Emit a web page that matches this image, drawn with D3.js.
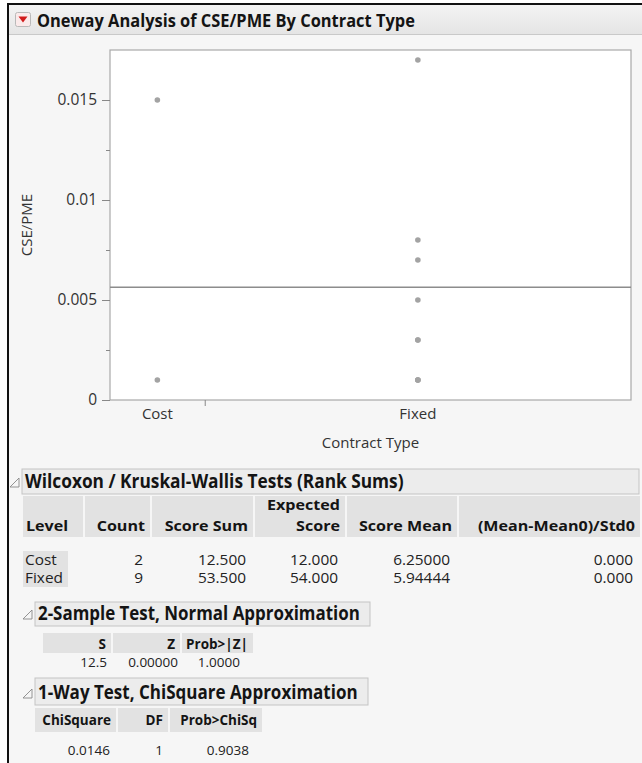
<!DOCTYPE html>
<html><head><meta charset="utf-8">
<script src="https://cdn.jsdelivr.net/npm/d3@7"></script>
<style>
html,body{margin:0;padding:0;background:#fff;}
svg{display:block;font-family:"Open Sans","Noto Sans",sans-serif;}
</style></head>
<body><svg id="c" width="642" height="763"></svg>
<script>
// ---------- data ----------
const title = "Oneway Analysis of CSE/PME By Contract Type";
const yLabel = "CSE/PME";
const xLabel = "Contract Type";
const categories = ["Cost", "Fixed"];
const counts = [2, 9];
const costValues = [0.015, 0.001];
const fixedValues = [0.017, 0.008, 0.007, 0.005, 0.003, 0.003, 0.001, 0.001, 0.001];
const yTicks = [0, 0.005, 0.01, 0.015];
const yTickLabels = ["0", "0.005", "0.01", "0.015"];
const yMinorTicks = [0.0025, 0.0075, 0.0125];

const wilcoxonTitle = "Wilcoxon / Kruskal-Wallis Tests (Rank Sums)";
const wilcoxonHeader1 = ["", "", "", "Expected", "", ""];
const wilcoxonHeader2 = ["Level", "Count", "Score Sum", "Score", "Score Mean", "(Mean-Mean0)/Std0"];
const wilcoxonLevels = ["Cost", "Fixed"];
const wilcoxonCounts = ["2", "9"];
const scoreSums = ["12.500", "53.500"];
const expectedScores = ["12.000", "54.000"];
const scoreMeans = ["6.25000", "5.94444"];
const stdScores = ["0.000", "0.000"];

const twoSampleTitle = "2-Sample Test, Normal Approximation";
const twoSampleHeader = ["S", "Z", "Prob>|Z|"];
const twoSampleValues = ["12.5", "0.00000", "1.0000"];

const oneWayTitle = "1-Way Test, ChiSquare Approximation";
const oneWayHeader = ["ChiSquare", "DF", "Prob>ChiSq"];
const oneWayValues = ["0.0146", "1", "0.9038"];

// ---------- drawing ----------
const svg = d3.select("#c");
const txt = "#141414";

function label(x, y, s, o) {
  o = o || {};
  const sx = o.sx || 1;
  const t = svg.append("text")
    .attr("transform", `translate(${x},${y}) scale(${sx},1)`)
    .attr("font-size", o.fs || 14)
    .attr("font-weight", o.bold ? "bold" : "normal")
    .attr("text-anchor", o.anchor || "start")
    .attr("fill", o.fill || txt)
    .text(s);
  if (o.width) {
    const w = t.node().getComputedTextLength();
    if (w > 0) t.attr("transform", `translate(${x},${y}) scale(${o.width / w},1)`);
  }
  return t;
}

svg.append("rect").attr("x", 8).attr("y", 4).attr("width", 640).attr("height", 770).attr("fill", "#f6f6f6");
svg.append("line").attr("x1", 8).attr("x2", 8).attr("y1", 3).attr("y2", 763).attr("stroke", "#111").attr("stroke-width", 2);
svg.append("line").attr("x1", 7).attr("x2", 642).attr("y1", 4).attr("y2", 4).attr("stroke", "#111").attr("stroke-width", 2);

const hg = svg.append("defs").append("linearGradient").attr("id", "hg").attr("x1", 0).attr("x2", 0).attr("y1", 0).attr("y2", 1);
hg.append("stop").attr("offset", "0%").attr("stop-color", "#f3f3f3");
hg.append("stop").attr("offset", "100%").attr("stop-color", "#e5e5e5");
svg.append("rect").attr("x", 9).attr("y", 5).attr("width", 633).attr("height", 29).attr("fill", "url(#hg)");
svg.append("line").attr("x1", 9).attr("x2", 642).attr("y1", 34.5).attr("y2", 34.5).attr("stroke", "#c9c9c9");
svg.append("rect").attr("x", 15.5).attr("y", 12.5).attr("width", 15).attr("height", 14).attr("rx", 2)
  .attr("fill", "#fbeaea").attr("stroke", "#b9b9b9");
svg.append("path").attr("d", "M18.5,16.5 L27.5,16.5 L23,22.5 Z").attr("fill", "#d11a1a");
label(37, 26.5, title, {fs: 18.5, bold: true, width: 378});

// ---------- plot ----------
const plot = {left: 110, right: 631, top: 50, bottom: 400};
svg.append("rect").attr("x", plot.left).attr("y", plot.top).attr("width", plot.right - plot.left)
  .attr("height", plot.bottom - plot.top).attr("fill", "#fff").attr("stroke", "#a9a9a9").attr("stroke-width", 1.2);

const y = d3.scaleLinear().domain([0, 0.0175]).range([plot.bottom, plot.top]);
const totalN = d3.sum(counts);
const xCum = d3.scaleLinear().domain([0, totalN]).range([plot.left, plot.right]);
const cumStarts = counts.map((c, i) => d3.sum(counts.slice(0, i)));
const catCenter = categories.map((c, i) => xCum(cumStarts[i] + counts[i] / 2));
const boundaries = cumStarts.slice(1);

const yAxis = d3.axisLeft(y).tickValues(yTicks).tickFormat((d, i) => yTickLabels[i]).tickSize(8).tickPadding(5);
const ga = svg.append("g").attr("transform", `translate(${plot.left},0)`).call(yAxis);
ga.select(".domain").remove();
ga.selectAll("line").attr("stroke", "#888");
ga.selectAll("text").attr("font-size", 15.5).attr("fill", "#333").attr("font-family", "\"Open Sans\",sans-serif");
const yMinor = d3.axisLeft(y).tickValues(yMinorTicks).tickFormat("").tickSize(4);
const gm = svg.append("g").attr("transform", `translate(${plot.left},0)`).call(yMinor);
gm.select(".domain").remove();
gm.selectAll("line").attr("stroke", "#888");

svg.append("text").attr("transform", `translate(32,${(plot.top + plot.bottom) / 2}) rotate(-90)`)
  .attr("text-anchor", "middle").attr("font-size", 15).attr("fill", "#333").text(yLabel);

const xAxis = d3.axisBottom(xCum).tickValues(boundaries).tickFormat("").tickSize(6);
const gx = svg.append("g").attr("transform", `translate(0,${plot.bottom})`).call(xAxis);
gx.select(".domain").remove();
gx.selectAll("line").attr("stroke", "#888");
categories.forEach((c, i) => {
  svg.append("text").attr("x", catCenter[i]).attr("y", 419).attr("text-anchor", "middle")
    .attr("font-size", 15).attr("fill", "#333").text(c);
});
svg.append("text").attr("x", (plot.left + plot.right) / 2).attr("y", 448).attr("text-anchor", "middle")
  .attr("font-size", 15).attr("fill", "#333").text(xLabel);

const allValues = costValues.concat(fixedValues);
const grandMean = d3.mean(allValues);
svg.append("line").attr("x1", plot.left).attr("x2", plot.right).attr("y1", y(grandMean)).attr("y2", y(grandMean))
  .attr("stroke", "#8c8c8c").attr("stroke-width", 1.4);

[costValues, fixedValues].forEach((vals, i) => {
  svg.append("g").selectAll("circle").data(vals).join("circle")
    .attr("cx", catCenter[i]).attr("cy", d => y(d)).attr("r", 2.8).attr("fill", "#a3a3a3");
});

// ---------- report sections ----------
function outlineHeader(x, yTop, w, h, s, targetW) {
  svg.append("path").attr("d", `M${x - 12},${yTop + h - 7} L${x - 3},${yTop + h - 7} L${x - 3},${yTop + h - 16} Z`)
    .attr("fill", "none").attr("stroke", "#888").attr("stroke-width", 0.9);
  svg.append("rect").attr("x", x).attr("y", yTop).attr("width", w).attr("height", h)
    .attr("fill", "#ececec").attr("stroke", "#c4c4c4");
  label(x + 3, yTop + h - 6.5, s, {fs: 19, bold: true, width: targetW});
}

const HS = 1.15;
const DS = 1.1;
const hfs = 14, dfs = 14;

// Wilcoxon
outlineHeader(22, 469, 617, 25, wilcoxonTitle, 379);
const wCols = [[23, 83], [85, 150], [152, 253], [255, 345], [347, 457], [459, 640]];
wCols.forEach((c, i) => {
  svg.append("rect").attr("x", c[0]).attr("y", 496).attr("width", c[1] - c[0]).attr("height", 41).attr("fill", "#e2e2e2");
  if (wilcoxonHeader1[i]) label(c[1] - 5, 510, wilcoxonHeader1[i], {fs: hfs, bold: true, anchor: "end", sx: HS});
  label(i === 0 ? c[0] + 3 : c[1] - 5, 531, wilcoxonHeader2[i], {fs: hfs, bold: true, anchor: i === 0 ? "start" : "end", sx: HS});
});
const wRows = wilcoxonLevels.map((l, i) => [l, wilcoxonCounts[i], scoreSums[i], expectedScores[i], scoreMeans[i], stdScores[i]]);
const rowY = [565, 583];
wRows.forEach((row, r) => {
  svg.append("rect").attr("x", 23).attr("y", rowY[r] - 14).attr("width", 45).attr("height", 18).attr("fill", "#e2e2e2");
  row.forEach((v, i) => {
    const c = wCols[i];
    label(i === 0 ? c[0] + 2 : c[1] - 7, rowY[r], v, {fs: dfs, anchor: i === 0 ? "start" : "end", sx: DS, fill: "#222"});
  });
});

// 2-sample test
outlineHeader(35, 602, 335, 24, twoSampleTitle, 322);
const sCols = [[43, 111], [113, 180], [182, 253]];
sCols.forEach((c, i) => {
  svg.append("rect").attr("x", c[0]).attr("y", 633).attr("width", c[1] - c[0]).attr("height", 20).attr("fill", "#e2e2e2");
  label(c[1] - 5, 648.5, twoSampleHeader[i], {fs: 13.5, bold: true, anchor: "end"});
});
const sValX = [107, 178, 240];
twoSampleValues.forEach((v, i) => label(sValX[i], 667, v, {fs: 13.5, anchor: "end", fill: "#222"}));

// 1-way test
outlineHeader(35, 678, 333, 27, oneWayTitle, 320);
const oCols = [[35, 116], [118, 168], [170, 262]];
oCols.forEach((c, i) => {
  svg.append("rect").attr("x", c[0]).attr("y", 708).attr("width", c[1] - c[0]).attr("height", 24).attr("fill", "#e2e2e2");
  label(c[1] - 5, 725, oneWayHeader[i], {fs: 13.5, bold: true, anchor: "end"});
});
const oValX = [110, 163, 249];
oneWayValues.forEach((v, i) => label(oValX[i], 755, v, {fs: 13.5, anchor: "end", fill: "#222"}));
</script></body></html>
